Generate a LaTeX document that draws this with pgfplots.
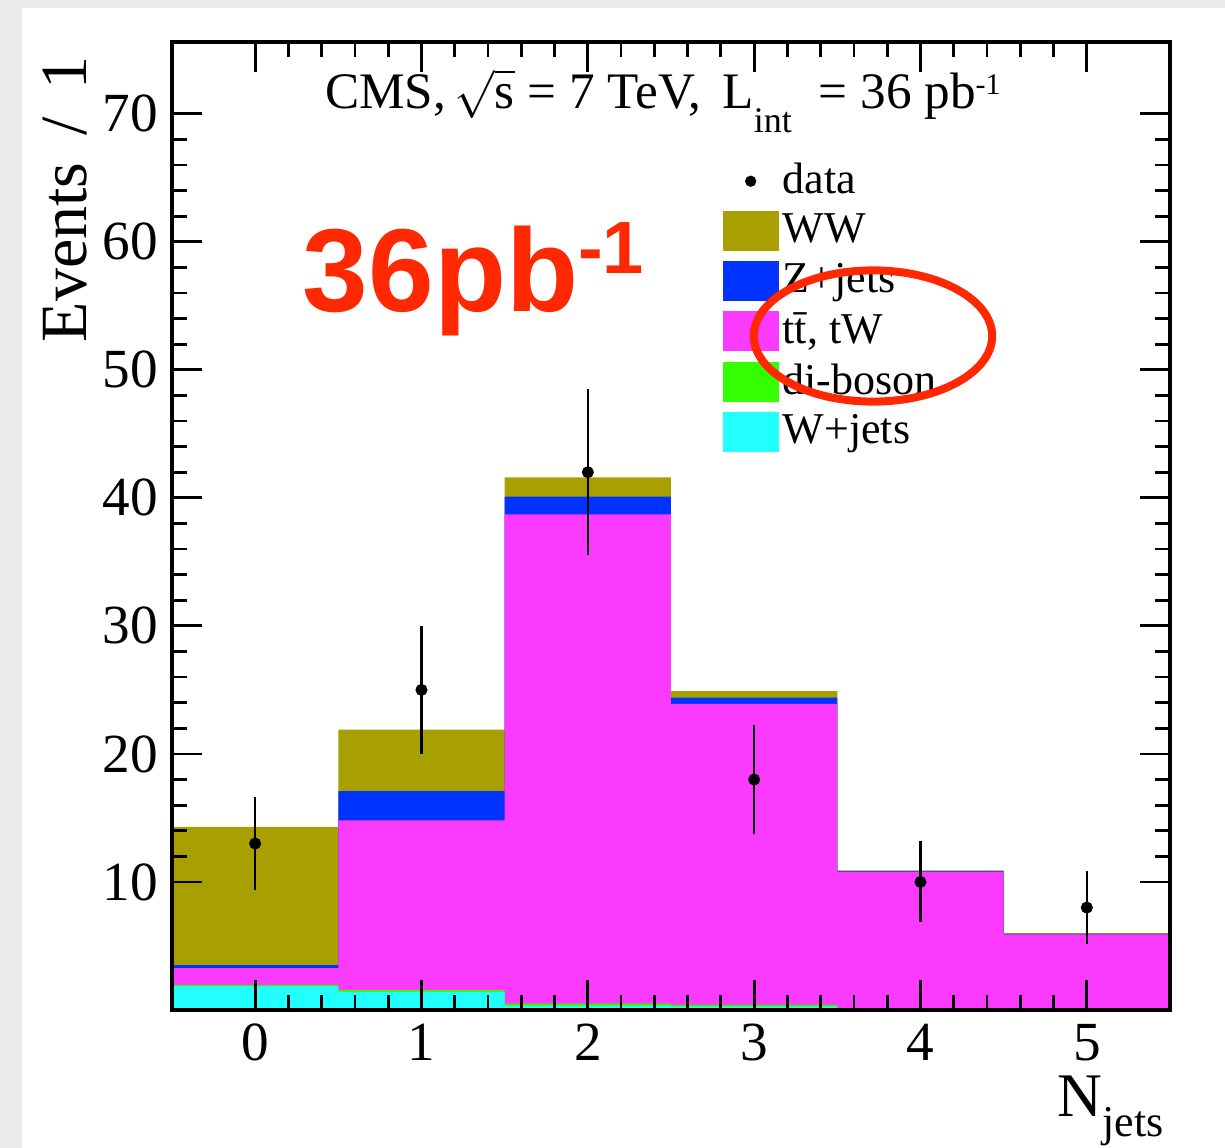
\documentclass[border=0pt]{standalone}
\usepackage{pgfplots}
\pgfplotsset{compat=1.18}
\usepackage{pgfplotstable}
\usepackage{fontspec}
\setmainfont{Liberation Serif}
\newfontfamily\arialfont{Liberation Sans}

\definecolor{slidebg}{RGB}{232,234,236}
\definecolor{wwcol}{RGB}{168,160,0}
\definecolor{zjcol}{RGB}{0,51,255}
\definecolor{ttcol}{RGB}{250,58,255}
\definecolor{dbcol}{RGB}{51,255,0}
\definecolor{wjcol}{RGB}{34,255,255}
\definecolor{annot}{RGB}{255,40,0}

% stacked (cumulative) histogram heights, x = lower bin edge, last row closes the last bin
\pgfplotstableread{
edge  wj    db    tt    zj     ww
-0.5  1.85  1.95  3.27  3.50   14.3
0.5   1.40  1.55  14.8  17.1   21.9
1.5   0.30  0.50  38.7  40.1   41.6
2.5   0.25  0.40  23.9  24.4   24.9
3.5   0.10  0.15  10.8  10.85  10.9
4.5   0.05  0.07  5.90  5.95   6.0
5.5   0.05  0.07  5.90  5.95   6.0
}\stack

\pgfplotstableread{
n  ev  err
0  13  3.61
1  25  5.00
2  42  6.48
3  18  4.24
4  10  3.16
5  8   2.83
}\data

\begin{document}
\begin{tikzpicture}
% slide background; 1 px of the reference = 0.25pt, axis box starts at (0,0)
\path[use as bounding box, fill=slidebg] (-43pt,-34.5pt) rectangle (263.25pt,252.5pt);
\fill[white] (-37.5pt,-34.5pt) rectangle (263.25pt,250.5pt);
\begin{axis}[
  scale only axis, width=249.5pt, height=242pt,
  xmin=-0.5, xmax=5.5, ymin=0, ymax=75.6,
  xtick={0,...,5}, ytick={10,20,...,70},
  minor x tick num=4, minor y tick num=4,
  tick align=inside, axis on top,
  major tick length=7.5pt, minor tick length=3.75pt,
  axis line style={line width=0.9pt},
  every tick/.style={black, line width=0.7pt},
  /pgf/number format/assume math mode=true,
  tick label style={font=\fontsize{13.8}{14}\selectfont},
  ylabel={Events\, /\, 1},
  ylabel style={at={(axis description cs:-0.107,1.0)}, anchor=east, font=\fontsize{16.5}{17}\selectfont},
  xlabel={N\raisebox{-5pt}{\fontsize{11}{11}\selectfont jets}},
  xlabel style={at={(axis description cs:1.008,-0.054)}, anchor=north east, font=\fontsize{15.5}{16}\selectfont},
  title={CMS,\,$\sqrt{\mbox{s}}$ = 7 TeV,\, L\raisebox{-6pt}{\fontsize{9}{9}\selectfont int}\; = 36 pb\raisebox{3.5pt}{\fontsize{7.5}{7.5}\selectfont -1}},
  title style={at={(axis description cs:0.492,0.962)}, anchor=north, font=\fontsize{12.8}{13}\selectfont},
  legend cell align=left,
  legend style={at={(axis description cs:0.551,0.88)}, anchor=north west, draw=none, fill=none,
    font=\fontsize{11}{11.5}\selectfont, row sep=1.6pt, inner sep=0pt,
    nodes={inner sep=1pt}},
  area legend/.style={legend image code/.code={\fill[##1] (0pt,-5pt) rectangle (14pt,5pt);}},
]
\addlegendimage{legend image code/.code={\path[draw=none, fill=none] (0pt,-5pt) rectangle (14pt,5pt); \fill[black] (7pt,0pt) circle (1.2pt);}}
\addlegendentry{data}
\addplot[const plot mark left, fill=wwcol, draw=none, area legend] table[x=edge, y=ww] {\stack} \closedcycle;
\addlegendentry{WW}
\addplot[const plot mark left, fill=zjcol, draw=none, area legend] table[x=edge, y=zj] {\stack} \closedcycle;
\addlegendentry{Z+jets}
\addplot[const plot mark left, fill=ttcol, draw=none, area legend] table[x=edge, y=tt] {\stack} \closedcycle;
\addlegendentry{t\=t, tW}
\addplot[const plot mark left, fill=dbcol, draw=none, area legend] table[x=edge, y=db] {\stack} \closedcycle;
\addlegendentry{di-boson}
\addplot[const plot mark left, fill=wjcol, draw=none, area legend] table[x=edge, y=wj] {\stack} \closedcycle;
\addlegendentry{W+jets}
\addplot[only marks, mark=*, mark size=1.3pt, black, forget plot,
  error bars/.cd, y dir=both, y explicit, error mark=none,
  error bar style={line width=0.6pt}]
  table[x=n, y=ev, y error=err] {\data};
\end{axis}
% slide annotations
\node[anchor=base west, inner sep=0pt, text=annot, font=\arialfont\bfseries\fontsize{29.5}{30}\selectfont]
  at (32.5pt,174.5pt) {36pb\raisebox{9.5pt}{\fontsize{18.5}{19}\selectfont -1}};
\draw[annot, line width=2pt] (175.25pt,168.5pt) ellipse [x radius=29.8pt, y radius=16.4pt];
\end{tikzpicture}
\end{document}
